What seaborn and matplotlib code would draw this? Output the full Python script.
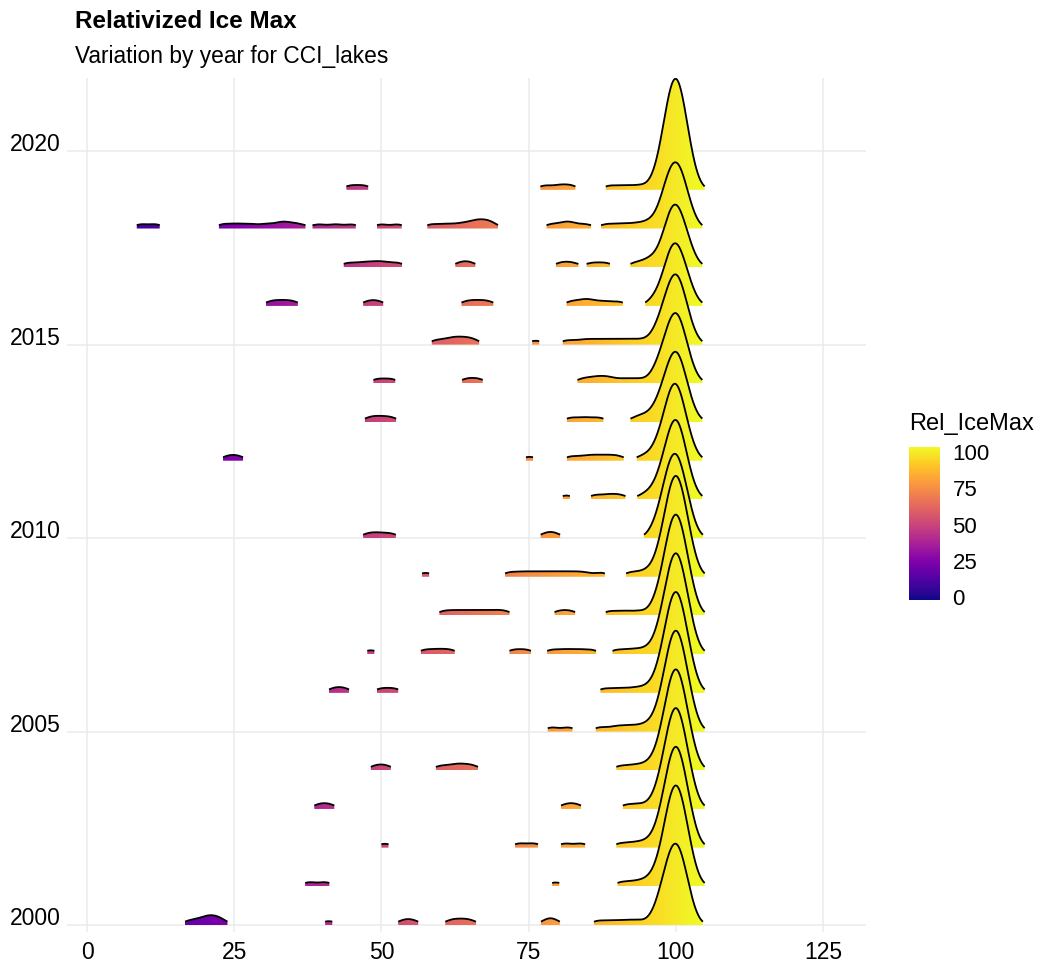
import numpy as np
import matplotlib
matplotlib.use("Agg")
import matplotlib.pyplot as plt
import matplotlib.colors as mcolors
from matplotlib.path import Path
from matplotlib.patches import PathPatch
import seaborn as sns

# ---------------- data: Rel_IceMax values and number of lakes at each value ----------------
ice_2000 = [17.4, 19.4, 20.6, 21.6, 22.8, 41.05, 53.7, 55.4, 61.7, 63.45, 65.2, 78.1, 79.3,
            86.8, 89.2, 91.5, 93.6, 96, 97, 98, 99, 100, 101, 102, 103]
lakes_2000 = [1, 1, 1, 1, 1, 1, 1, 1, 1, 1, 1, 1, 1, 1, 1, 1, 1, 1, 2, 5, 7, 9, 7, 4, 1]
ice_2001 = [37.7, 40.5, 79.6, 90.8, 93.0, 94.8, 96, 97, 98, 99, 100, 101, 102, 103]
lakes_2001 = [1, 1, 1, 1, 1, 1, 1, 2, 5, 9, 11, 9, 5, 2]
ice_2002 = [50.6, 73.35, 75.95, 81.15, 83.95, 90.6, 92.8, 94.6,
            96, 97, 98, 99, 100, 101, 102, 103]
lakes_2002 = [1, 1, 1, 1, 1, 1, 1, 1, 1, 2, 5, 9, 11, 9, 5, 2]
ice_2003 = [39.4, 41.2, 81.3, 83.1, 91.7, 93.9, 96, 97, 98, 99, 100, 101, 102, 103]
lakes_2003 = [1, 1, 1, 1, 1, 1, 1, 2, 5, 9, 11, 9, 5, 2]
ice_2004 = [49.0, 50.8, 60.0, 62.2, 63.8, 65.6, 90.6, 92.8, 94.6,
            96, 97, 98, 99, 100, 101, 102, 103]
lakes_2004 = [1, 1, 1, 1, 1, 1, 1, 1, 1, 1, 2, 5, 9, 11, 9, 5, 2]
ice_2005 = [78.9, 81.8, 87.1, 89.6, 91.4, 93.2, 94.8, 96, 97, 98, 99, 100, 101, 102, 103]
lakes_2005 = [1, 1, 1, 1, 1, 1, 1, 1, 2, 5, 9, 11, 9, 5, 2]
ice_2006 = [41.9, 43.7, 49.95, 52.15, 87.9, 90.3, 92.6, 94.5,
            96, 97, 98, 99, 100, 101, 102, 103]
lakes_2006 = [1, 1, 1, 1, 1, 1, 1, 1, 1, 2, 5, 9, 11, 9, 5, 2]
ice_2007 = [48.2, 57.4, 59.6, 61.7, 72.45, 74.65, 78.9, 81.2, 83.4, 85.7, 90.0, 92.3, 94.3,
            96, 97, 98, 99, 100, 101, 102, 103]
lakes_2007 = [1, 1, 1, 1, 1, 1, 1, 1, 1, 1, 1, 1, 1, 1, 2, 5, 9, 11, 9, 5, 2]
ice_2008 = [60.6, 62.7, 64.8, 66.9, 69.0, 71.0, 80.15, 82.15, 88.8, 91.2, 93.6,
            96, 97, 98, 99, 100, 101, 102, 103]
lakes_2008 = [1, 1, 1, 1, 1, 1, 1, 1, 1, 1, 1, 1, 2, 5, 9, 11, 9, 5, 2]
ice_2009 = [57.5, 71.7, 73.9, 76.0, 78.1, 80.2, 82.3, 84.4, 87.3, 92.3, 94.4,
            96, 97, 98, 99, 100, 101, 102, 103]
lakes_2009 = [1, 1, 1, 1, 1, 1, 1, 1, 1, 1, 1, 1, 2, 5, 9, 11, 9, 5, 2]
ice_2010 = [47.7, 49.6, 51.7, 77.9, 79.5, 96, 97, 98, 99, 100, 101, 102, 103]
lakes_2010 = [1, 1, 1, 1, 1, 1, 2, 5, 8, 9, 7, 4, 1]
ice_2011 = [81.4, 86.3, 88.6, 90.6, 94.5, 96, 97, 98, 99, 100, 101, 102, 103]
lakes_2011 = [1, 1, 1, 1, 1, 1, 2, 4, 7, 9, 7, 3, 1]
ice_2012 = [23.9, 25.7, 75.15, 82.2, 84.6, 86.5, 88.4, 90.3, 94.3,
            96, 97, 98, 99, 100, 101, 102, 103]
lakes_2012 = [1, 1, 1, 1, 1, 1, 1, 1, 1, 1, 2, 4, 7, 9, 6, 3, 1]
ice_2013 = [48.0, 49.8, 51.7, 82.2, 84.6, 87.0, 93.2, 94.8, 96, 97, 98, 99, 100, 101, 102, 103]
lakes_2013 = [1, 1, 1, 1, 1, 1, 1, 1, 1, 2, 4, 6, 8, 6, 3, 1]
ice_2014 = [49.35, 51.65, 64.45, 66.45, 84.1, 86.0, 87.5, 89.0, 91.3, 93.6,
            96, 97, 98, 99, 100, 101, 102, 103]
lakes_2014 = [1, 1, 1, 1, 1, 1, 1, 1, 1, 1, 1, 2, 4, 6, 8, 6, 3, 1]
ice_2015 = [59.3, 61.4, 62.8, 64.2, 65.7, 76.2, 81.5, 84.0, 86.0, 88.0, 90.0, 92.0, 94.0,
            96, 97, 98, 99, 100, 101, 102, 103]
lakes_2015 = [1, 1, 1, 1, 1, 1, 1, 1, 1, 1, 1, 1, 1, 1, 2, 4, 6, 8, 6, 3, 1]
ice_2016 = [31.2, 33.1, 35.0, 47.7, 49.5, 64.4, 66.3, 68.2, 82.2, 84.2, 85.6, 87.8, 90.3,
            96, 97, 98, 99, 100, 101, 102, 103]
lakes_2016 = [1, 1, 1, 1, 1, 1, 1, 1, 1, 1, 1, 1, 1, 1, 1, 3, 6, 7, 5, 3, 1]
ice_2017 = [44.3, 46.7, 48.7, 50.5, 52.8, 63.4, 65.1, 80.45, 82.4, 85.8, 88.1, 93.1, 95.0,
            96, 97, 98, 99, 100, 101, 102, 103]
lakes_2017 = [1, 1, 1, 1, 1, 1, 1, 1, 1, 1, 1, 1, 1, 1, 1, 3, 6, 7, 5, 3, 1]
ice_2018 = [9.1, 11.7, 23.1, 25.4, 27.7, 30.3, 32.6, 34.0, 36.0, 39.3, 42.15, 45.0, 49.9, 52.8,
            58.5, 61.0, 63.3, 65.2, 66.4, 67.6, 68.8, 78.8, 81.0, 82.3, 84.7, 88.2, 90.5, 92.7,
            94.6, 96, 97, 98, 99, 100, 101, 102, 103]
lakes_2018 = [1, 1, 1, 1, 1, 1, 1, 1, 1, 1, 1, 1, 1, 1,
              1, 1, 1, 1, 1, 1, 1, 1, 1, 1, 1, 1, 1, 1,
              1, 1, 1, 4, 6, 7, 6, 3, 1]
ice_2019 = [44.75, 47.05, 77.7, 80.2, 82.2, 88.8, 91.3, 93.7, 96, 97, 98, 99, 100, 101, 102, 103]
lakes_2019 = [1, 1, 1, 1, 1, 1, 1, 1, 1, 2, 6, 10, 12, 10, 5, 2]

years = list(range(2000, 2020))
ice_values = [ice_2000, ice_2001, ice_2002, ice_2003, ice_2004, ice_2005, ice_2006,
              ice_2007, ice_2008, ice_2009, ice_2010, ice_2011, ice_2012, ice_2013,
              ice_2014, ice_2015, ice_2016, ice_2017, ice_2018, ice_2019]
lake_counts = [lakes_2000, lakes_2001, lakes_2002, lakes_2003, lakes_2004, lakes_2005,
               lakes_2006, lakes_2007, lakes_2008, lakes_2009, lakes_2010, lakes_2011,
               lakes_2012, lakes_2013, lakes_2014, lakes_2015, lakes_2016, lakes_2017,
               lakes_2018, lakes_2019]

x_ticks = [0, 25, 50, 75, 100, 125]
y_ticks = [2000, 2005, 2010, 2015, 2020]
cbar_ticks = [0, 25, 50, 75, 100]

title = "Relativized Ice Max"
subtitle = "Variation by year for CCI_lakes"
legend_title = "Rel_IceMax"

# ---------------- style ----------------
sns.set_theme(style="whitegrid", rc={
    "grid.color": "#EBEBEB",
    "grid.linewidth": 1.1,
    "axes.edgecolor": "white",
})
plt.rcParams["font.family"] = ["Liberation Sans", "DejaVu Sans"]

W, H = 1048, 964
fig = plt.figure(figsize=(W / 100, H / 100), dpi=100)
ax = fig.add_axes([67 / W, 32 / H, 799 / W, 854 / H])

cmap = sns.color_palette("plasma", as_cmap=True)
norm = mcolors.Normalize(vmin=-2.3, vmax=103.7)

# ---------------- ridgeline densities (gaussian kernel, joint bandwidth) ----------------
bw = 1.2
ridge_scale = 2.87
rel_min_height = 0.03
grid = np.linspace(-3.0, 105.2, 2165)

dens = {}
for yr, vals, cnts in zip(years, ice_values, lake_counts):
    assert len(vals) == len(cnts), yr
    v = np.asarray(vals, float)[:, None]
    c = np.asarray(cnts, float)[:, None]
    dens[yr] = (c * np.exp(-0.5 * ((grid[None, :] - v) / bw) ** 2)).sum(axis=0)

gmax = max(d.max() for d in dens.values())
thr = rel_min_height * gmax
grad = np.linspace(grid[0], grid[-1], 1500)[None, :]

for yr in sorted(dens, reverse=True):
    h = dens[yr] / gmax * ridge_scale
    idx = np.flatnonzero(dens[yr] >= thr)
    if idx.size == 0:
        continue
    runs = np.split(idx, np.flatnonzero(np.diff(idx) > 1) + 1)
    z = 10 + (2019 - yr) * 2
    verts, codes = [], []
    for r in runs:
        xs = grid[r]
        ys = yr + h[r]
        poly = [(xs[0], yr)] + list(zip(xs, ys)) + [(xs[-1], yr), (xs[0], yr)]
        verts += poly
        codes += [Path.MOVETO] + [Path.LINETO] * (len(poly) - 2) + [Path.CLOSEPOLY]
        ax.plot(xs, ys, color="black", lw=1.3, zorder=z + 1, solid_capstyle="butt",
                solid_joinstyle="round")
    patch = PathPatch(Path(verts, codes), facecolor="none", edgecolor="none",
                      transform=ax.transData)
    ax.add_patch(patch)
    im = ax.imshow(grad, cmap=cmap, norm=norm, aspect="auto", origin="lower",
                   extent=(grid[0], grid[-1], yr, yr + h.max() + 0.05),
                   interpolation="bilinear", zorder=z)
    im.set_clip_path(patch)

ax.set_xlim(-3.4, 132.3)
ax.set_ylim(1999.82, 2021.89)
ax.set_xticks(x_ticks)
ax.set_xticklabels([str(t) for t in x_ticks])
ax.set_yticks(y_ticks)
ax.set_yticklabels([str(t) for t in y_ticks], va="baseline")
ax.tick_params(axis="x", length=0, pad=6.5, labelsize=16.5, labelcolor="black")
ax.tick_params(axis="y", length=0, pad=4.3, labelsize=16.5, labelcolor="black")
ax.set_xlabel("")
ax.set_ylabel("")
for s in ax.spines.values():
    s.set_visible(False)
ax.grid(True, which="major")
ax.set_axisbelow(True)

# ---------------- titles ----------------
fig.text(75 / W, 1 - 28.3 / H, title, fontsize=17.5, fontweight="bold",
         va="baseline", ha="left", color="black")
fig.text(75 / W, 1 - 63.3 / H, subtitle, fontsize=16.4, va="baseline", ha="left",
         color="black")

# ---------------- colourbar legend ----------------
cax = fig.add_axes([909 / W, 364 / H, 31 / W, 153 / H])
sm = matplotlib.cm.ScalarMappable(norm=norm, cmap=cmap)
cb = fig.colorbar(sm, cax=cax, ticks=cbar_ticks)
cb.outline.set_visible(False)
cax.tick_params(axis="y", direction="in", left=True, right=True, color="white",
                length=4.3, width=0.9, pad=9, labelsize=16, labelcolor="black")
cax.set_yticklabels([str(t) for t in cbar_ticks])
fig.text(909 / W, 1 - 430 / H, legend_title, fontsize=17, va="baseline", ha="left",
         color="black")

fig.savefig("out.png", dpi=100)
